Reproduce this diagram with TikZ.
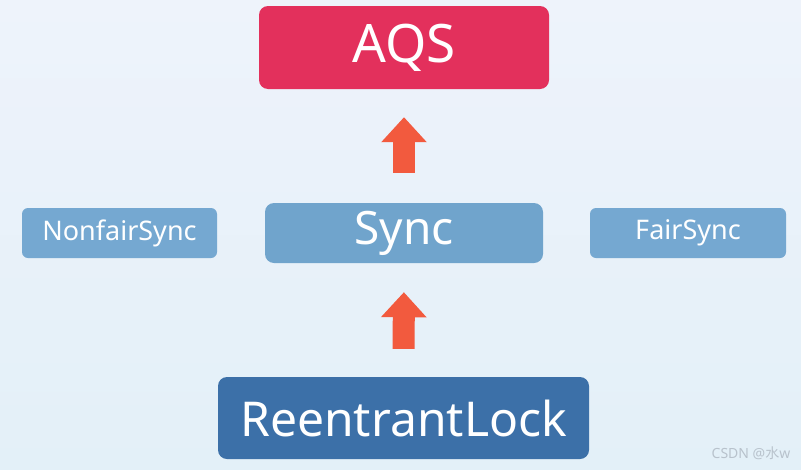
\documentclass[tikz,border=0pt]{standalone}
\usepackage{fontspec}
\setmainfont{Noto Sans}
\newfontfamily\cjkfont{Noto Sans CJK SC}
\usetikzlibrary{arrows.meta}
\definecolor{bgA}{HTML}{EEF3FB}
\definecolor{bgB}{HTML}{E3F0F8}
\definecolor{aqsred}{HTML}{E3305C}
\definecolor{syncblue}{HTML}{70A4CC}
\definecolor{sideblue}{HTML}{75A8D1}
\definecolor{rlblue}{HTML}{3C70A8}
\definecolor{uparrow}{HTML}{F25A3E}
\definecolor{wmgray}{HTML}{B8C2CC}
\tikzset{
  box/.style={rounded corners=9pt, text=white, inner sep=0pt, align=center},
  uparr/.style={draw=uparrow, line width=22pt, -{Triangle[width=44pt,length=25pt]}}
}
\begin{document}
\begin{tikzpicture}[x=1pt,y=-1pt]
\shade[left color=bgA, right color=bgB, shading angle=0] (0,0) rectangle (801,469);
\useasboundingbox (0,0) rectangle (801,469);
\node[box, fill=aqsred, minimum width=290pt, minimum height=83pt, font=\fontsize{53}{55}\selectfont] (aqs) at (404,47.5) {AQS};
\node[box, fill=syncblue, minimum width=278pt, minimum height=60pt, font=\fontsize{46}{48}\selectfont] (sync) at (404,233) {Sync};
\node[box, fill=sideblue, rounded corners=6pt, minimum width=195pt, minimum height=50pt, font=\fontsize{27}{29}\selectfont] (nonfair) at (119.5,233) {NonfairSync};
\node[box, fill=sideblue, rounded corners=6pt, minimum width=196pt, minimum height=50pt, font=\fontsize{27}{29}\selectfont] (fair) at (688,233) {FairSync};
\node[box, fill=rlblue, minimum width=371pt, minimum height=82pt, font=\fontsize{48}{50}\selectfont] (rl) at (403.5,418) {ReentrantLock};
\draw[uparr, shorten <=30pt, shorten >=28pt] (sync.north) -- (aqs.south);
\draw[uparr, shorten <=28pt, shorten >=29pt] (rl.north) -- (sync.south);
\node[text=wmgray, font=\fontsize{14}{16}\selectfont, inner sep=0pt] (wm) at (751,453) {CSDN @{\cjkfont 水}w};
\end{tikzpicture}
\end{document}
